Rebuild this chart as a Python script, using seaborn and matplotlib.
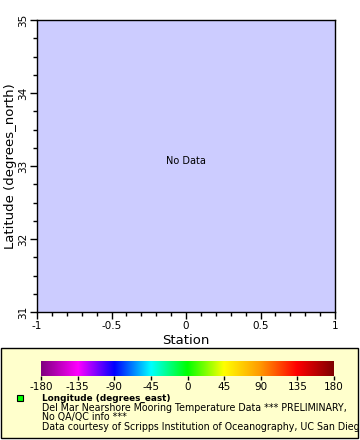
import numpy as np
import pandas as pd
import matplotlib
matplotlib.use("Agg")
import matplotlib.pyplot as plt
import seaborn as sns
from matplotlib.colors import LinearSegmentedColormap
from matplotlib.patches import Rectangle
from matplotlib.ticker import MultipleLocator

# ---- data (no data available) ----
station = []
latitude = []
longitude = []
x_ticks = [-1, -0.5, 0, 0.5, 1]
x_tick_labels = ["-1", "-0.5", "0", "0.5", "1"]
y_ticks = [31, 32, 33, 34, 35]
y_tick_labels = ["31", "32", "33", "34", "35"]
cbar_ticks = [-180, -135, -90, -45, 0, 45, 90, 135, 180]
cbar_colors = ["#800080", "#ff00ff", "#0000ff", "#00ffff", "#00ff00",
               "#ffff00", "#ff9900", "#ff0000", "#800000"]
legend_title = "Longitude (degrees_east)"
legend_lines = ["Del Mar Nearshore Mooring Temperature Data *** PRELIMINARY,",
                "No QA/QC info ***",
                "Data courtesy of Scripps Institution of Oceanography, UC San Diego"]

sns.set_style("ticks")
plt.rcParams["font.family"] = ["DejaVu Sans"]
plt.rcParams["text.color"] = "black"
plt.rcParams["axes.labelcolor"] = "black"
plt.rcParams["xtick.color"] = "black"
plt.rcParams["ytick.color"] = "black"

W, H = 360, 440
fig = plt.figure(figsize=(W / 100, H / 100), dpi=100)
fig.patch.set_facecolor("white")

def fx(px):
    return px / W

def fy(py):
    return 1 - py / H

# legend box (drawn first, behind everything)
box = Rectangle((fx(1), fy(438)), fx(357), 90 / H, transform=fig.transFigure,
                facecolor="#ffffcc", edgecolor="black", linewidth=1, zorder=-5)
fig.patches.append(box)

# main axes: x 37..335, y 20..312
ax = fig.add_axes([fx(37), fy(312), fx(335) - fx(37), fy(20) - fy(312)])
df = pd.DataFrame({"Station": pd.Series(station, dtype=float),
                   "Latitude": pd.Series(latitude, dtype=float)})
sns.scatterplot(data=df, x="Station", y="Latitude", ax=ax)
ax.set_facecolor("#ccccff")
ax.set_xlim(-1, 1)
ax.set_ylim(31, 35)
ax.set_xticks(x_ticks)
ax.set_xticklabels(x_tick_labels, fontsize=7.5)
ax.set_yticks(y_ticks)
ax.set_yticklabels(y_tick_labels, fontsize=7.5, rotation=90, va="center")
ax.xaxis.set_minor_locator(MultipleLocator(0.1))
ax.yaxis.set_minor_locator(MultipleLocator(0.25))
ax.tick_params(which="major", length=5, width=1, color="black", pad=1.5)
ax.tick_params(which="minor", length=3, width=1, color="black")
ax.set_xlabel("Station", fontsize=9.5, labelpad=2)
ax.set_ylabel("Latitude (degrees_north)", fontsize=9.5, labelpad=1)
for s in ax.spines.values():
    s.set_color("black")
    s.set_linewidth(1)
ax.text(0.5, 0.517, "No Data", transform=ax.transAxes, ha="center",
        va="center", fontsize=7)

# colorbar axes: x 41..334, y 361..376
cax = fig.add_axes([fx(41), fy(376), fx(334) - fx(41), fy(361) - fy(376)])
cax.set_zorder(2)
cmap = LinearSegmentedColormap.from_list(
    "lonmap", list(zip(np.linspace(0, 1, len(cbar_colors)), cbar_colors)))
grad = np.linspace(-180, 180, 512).reshape(1, -1)
cax.imshow(grad, aspect="auto", cmap=cmap, extent=[-180, 180, 0, 1],
           vmin=-180, vmax=180)
cax.set_xlim(-180, 180)
cax.set_yticks([])
cax.set_xticks(cbar_ticks)
cax.set_xticklabels([str(t) for t in cbar_ticks], fontsize=7.5)
cax.tick_params(axis="x", length=3, width=1, color="black", pad=1)
for s in cax.spines.values():
    s.set_visible(False)

# marker
fig.add_artist(plt.Line2D([fx(20)], [fy(398)], marker="s", markersize=4.5,
                          markerfacecolor="#00ff00", markeredgecolor="black",
                          markeredgewidth=0.8, transform=fig.transFigure,
                          zorder=3))

fig.text(fx(42), fy(398), legend_title, fontsize=6.4, fontweight="bold",
         va="center", ha="left", zorder=3)
ys = [407.5, 417, 426.5]
for line, yy in zip(legend_lines, ys):
    tt = fig.text(fx(42), fy(yy), line, fontsize=6.85, va="center", ha="left",
                  zorder=3)
    tt.set_clip_path(box)

fig.savefig("out.png", dpi=100, facecolor="white")
